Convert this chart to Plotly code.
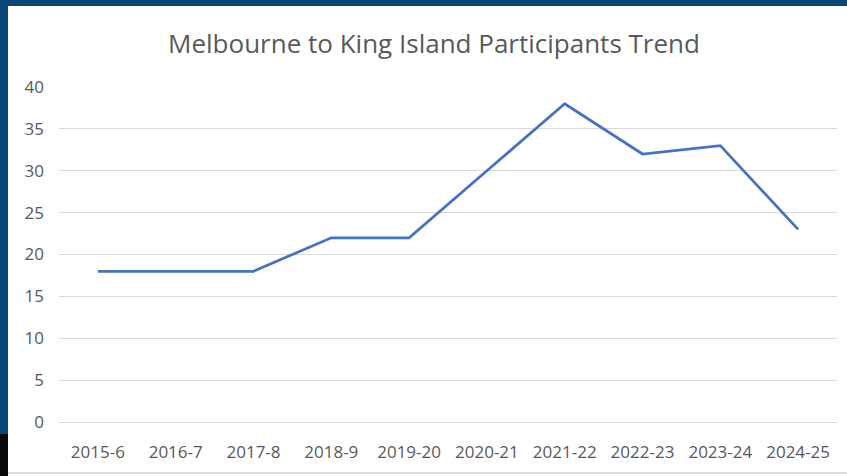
import plotly.graph_objects as go

saisons = ["2015-6", "2016-7", "2017-8", "2018-9", "2019-20",
           "2020-21", "2021-22", "2022-23", "2023-24", "2024-25"]
participants = [18, 18, 18, 22, 22, 30, 38, 32, 33, 23]
ticks_y = [0, 5, 10, 15, 20, 25, 30, 35, 40]

W, H = 847, 476
L, R, T, B = 59, 10, 87, 54


def px_x(px):
    return (px - L) / (W - L - R)


def px_y(py):
    return (H - B - py) / (H - T - B)


fig = go.Figure()
fig.add_trace(go.Scatter(x=saisons, y=participants, mode="lines",
                         line=dict(color="#4472C4", width=2.75)))

fig.update_layout(
    width=W, height=H,
    margin=dict(l=L, r=R, t=T, b=B),
    paper_bgcolor="white", plot_bgcolor="white",
    showlegend=False,
    title=dict(text="Melbourne to King Island Participants Trend",
               x=434 / W, xref="container", xanchor="center",
               y=1 - 44 / H, yref="container", yanchor="middle",
               font=dict(family="Open Sans", size=26, color="#595959")),
    font=dict(family="Open Sans", size=17, color="#595959"),
)
fig.update_xaxes(type="category", range=[-0.5, 9.5], showgrid=False,
                 showline=False, zeroline=False, ticklabelstandoff=18)
fig.update_yaxes(range=[0, 40], tickvals=ticks_y, gridcolor="#D9D9D9",
                 gridwidth=1, zeroline=True, zerolinecolor="#D9D9D9",
                 zerolinewidth=1, showline=False, ticklabelstandoff=14)

# cadre de la capture
fig.add_shape(type="rect", xref="paper", yref="paper",
              x0=px_x(0), x1=px_x(W), y0=px_y(0), y1=px_y(6),
              fillcolor="#0A4677", line_width=0, layer="above")
fig.add_shape(type="rect", xref="paper", yref="paper",
              x0=px_x(0), x1=px_x(8), y0=px_y(0), y1=px_y(434),
              fillcolor="#0A4677", line_width=0, layer="above")
fig.add_shape(type="rect", xref="paper", yref="paper",
              x0=px_x(0), x1=px_x(8), y0=px_y(434), y1=px_y(H),
              fillcolor="#0A0A0A", line_width=0, layer="above")
fig.add_shape(type="line", xref="paper", yref="paper",
              x0=px_x(8), x1=px_x(W), y0=px_y(473), y1=px_y(473),
              line=dict(color="#D0D0D0", width=1.5), layer="above")

fig.write_html("out.html", config={"displayModeBar": False},
               post_script="document.body.style.margin='0';")
